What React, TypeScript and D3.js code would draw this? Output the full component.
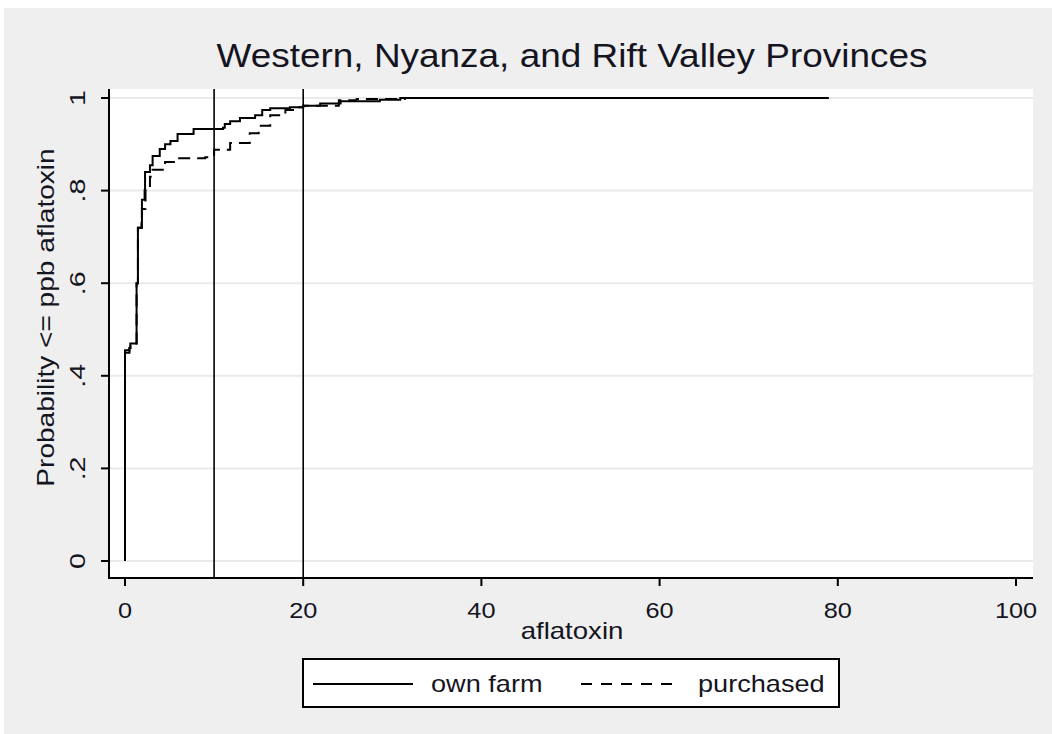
import React from "react";
import * as d3 from "d3";

const title = "Western, Nyanza, and Rift Valley Provinces";
const xTicks = [0, 20, 40, 60, 80, 100];
const yTicks = [0, 0.2, 0.4, 0.6, 0.8, 1];
const yTickLabels = ["0", ".2", ".4", ".6", ".8", "1"];
const refLines = [10, 20];

// own farm: [aflatoxin ppb, cumulative probability]
const ownFarm: [number, number][] = [
  [0, 0], [0, 0.455], [0.5, 0.46], [0.6, 0.47], [1.25, 0.47], [1.3, 0.6], [1.45, 0.62],
  [1.45, 0.72], [1.85, 0.73], [1.9, 0.78], [2.2, 0.8], [2.25, 0.84], [2.8, 0.855],
  [3.1, 0.875], [3.9, 0.89], [4.5, 0.9], [5.1, 0.907], [5.9, 0.922], [7.6, 0.923],
  [7.7, 0.933], [11, 0.936], [11.2, 0.944], [11.8, 0.95], [12.9, 0.957], [14.6, 0.963],
  [15.4, 0.974], [16.3, 0.978], [18.5, 0.98], [20, 0.983], [21.9, 0.988], [24.2, 0.993],
  [28.6, 0.996], [30.9, 1], [79, 1],
];

// purchased
const purchased: [number, number][] = [
  [0, 0], [0, 0.45], [0.5, 0.46], [0.6, 0.47], [1.25, 0.47], [1.3, 0.6], [1.45, 0.62],
  [1.45, 0.72], [1.9, 0.76], [2.3, 0.8], [2.8, 0.83], [3.1, 0.845], [4.5, 0.862],
  [5.9, 0.87], [9, 0.872], [10, 0.888], [11.8, 0.903], [14, 0.924], [15, 0.94],
  [16.3, 0.963], [18, 0.974], [19, 0.98], [20, 0.983], [24, 0.995], [26, 0.998], [31.4, 1],
];

const seriesNames = ["own farm", "purchased"];

export default function App() {
  const W = 1052, H = 734;
  const plotLeft = 109, plotRight = 1033, plotTop = 89, plotBottom = 578;
  const x = d3.scaleLinear().domain([0, 100]).range([125, 1016]);
  const y = d3.scaleLinear().domain([0, 1]).range([561, 98]);
  const line = d3.line<[number, number]>().x(d => x(d[0])).y(d => y(d[1])).curve(d3.curveStepAfter);
  const font = "'Liberation Sans', Arial, sans-serif";
  const txt = "#15151f";
  return (
    <svg width={W} height={H} style={{ position: "absolute", left: 0, top: 0 }} fontFamily={font}>
      <rect x={0} y={0} width={W} height={H} fill="#ffffff" />
      <rect x={4} y={8} width={W - 4} height={H - 8} fill="#efefef" />
      <rect x={plotLeft} y={plotTop} width={plotRight - plotLeft} height={plotBottom - plotTop} fill="#ffffff" />
      {yTicks.map((t, i) => (
        <line key={"g" + i} x1={plotLeft} x2={plotRight} y1={y(t)} y2={y(t)} stroke="#eaeaea" strokeWidth={2} />
      ))}
      {refLines.map((r, i) => (
        <line key={"r" + i} x1={x(r)} x2={x(r)} y1={plotTop} y2={plotBottom} stroke="#000" strokeWidth={1.6} />
      ))}
      <path d={line(purchased) || ""} fill="none" stroke="#000" strokeWidth={2} strokeDasharray="12,7" />
      <path d={line(ownFarm) || ""} fill="none" stroke="#000" strokeWidth={2} />
      {/* axes */}
      <line x1={plotLeft} x2={plotLeft} y1={plotTop} y2={plotBottom + 1} stroke="#000" strokeWidth={2} />
      <line x1={plotLeft} x2={plotRight} y1={plotBottom} y2={plotBottom} stroke="#000" strokeWidth={2} />
      {yTicks.map((t, i) => (
        <g key={"yt" + i}>
          <line x1={plotLeft - 8} x2={plotLeft} y1={y(t)} y2={y(t)} stroke="#000" strokeWidth={2} />
          <text transform={`translate(85,${y(t)}) rotate(-90) scale(1.3,1)`} textAnchor="middle" fontSize={22} fill={txt}>
            {yTickLabels[i]}
          </text>
        </g>
      ))}
      {xTicks.map((t, i) => (
        <g key={"xt" + i}>
          <line x1={x(t)} x2={x(t)} y1={plotBottom} y2={plotBottom + 8} stroke="#000" strokeWidth={2} />
          <text transform={`translate(${x(t)},618) scale(1.15,1)`} textAnchor="middle" fontSize={22} fill={txt}>{t}</text>
        </g>
      ))}
      <text transform="translate(572,639) scale(1.2,1)" textAnchor="middle" fontSize={23} fill={txt}>aflatoxin</text>
      <text transform={`translate(54,${(plotTop + plotBottom) / 2 - 16}) rotate(-90) scale(1.22,1)`} textAnchor="middle" fontSize={23} fill={txt}>
        Probability &lt;= ppb aflatoxin
      </text>
      <text transform="translate(572,67) scale(1.12,1)" textAnchor="middle" fontSize={33} fill={txt}>{title}</text>
      {/* legend */}
      <rect x={303} y={659} width={536} height={48} fill="#fff" stroke="#000" strokeWidth={2} />
      <line x1={313} x2={413} y1={684} y2={684} stroke="#000" strokeWidth={2} />
      <text transform="translate(431,692) scale(1.18,1)" fontSize={23} fill={txt}>{seriesNames[0]}</text>
      <line x1={581} x2={681} y1={684} y2={684} stroke="#000" strokeWidth={2} strokeDasharray="11,9" />
      <text transform="translate(698,692) scale(1.18,1)" fontSize={23} fill={txt}>{seriesNames[1]}</text>
    </svg>
  );
}
